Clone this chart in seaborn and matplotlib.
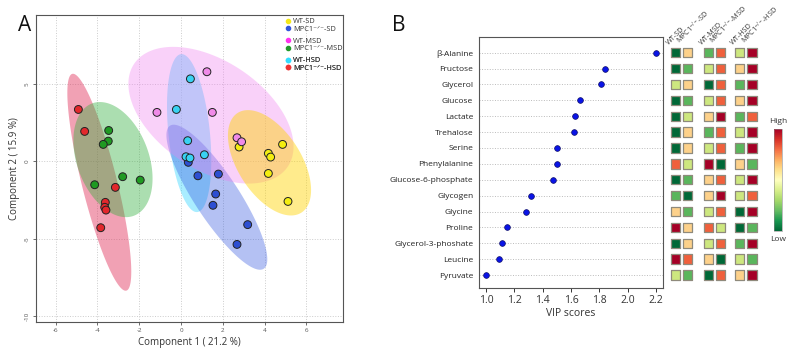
import numpy as np
import pandas as pd
import seaborn as sns
import matplotlib as mpl
import matplotlib.pyplot as plt
from matplotlib.lines import Line2D

# ---- panel A: PLS-DA scores ----
groups = ['WT-SD', 'MPC1-SD', 'WT-MSD', 'MPC1-MSD', 'WT-HSD', 'MPC1-HSD']
labels = ['WT-SD', 'MPC1$^{-/-}$-SD', 'WT-MSD', 'MPC1$^{-/-}$-MSD',
          'WT-HSD', 'MPC1$^{-/-}$-HSD']
# same names, with plain unicode superscripts (keeps the small legend compact)
legend_labels = ['WT-SD', 'MPC1⁻ᐟ⁻-SD', 'WT-MSD', 'MPC1⁻ᐟ⁻-MSD',
                 'WT-HSD', 'MPC1⁻ᐟ⁻-HSD']

wt_sd_x = [2.78, 4.86, 4.18, 4.29, 4.18, 5.12]
wt_sd_y = [0.93, 1.10, 0.52, 0.28, -0.78, -2.59]
mpc_sd_x = [0.35, 0.81, 1.79, 1.66, 1.53, 3.19, 2.68]
mpc_sd_y = [-0.06, -0.93, -0.82, -2.11, -2.84, -4.09, -5.37]
wt_msd_x = [1.24, -1.15, 1.50, 2.68, 2.90]
wt_msd_y = [5.80, 3.17, 3.17, 1.53, 1.27]
mpc_msd_x = [-3.46, -3.48, -3.72, -2.79, -1.95, -4.13]
mpc_msd_y = [2.00, 1.31, 1.10, -0.99, -1.21, -1.51]
wt_hsd_x = [0.45, -0.22, 0.32, 1.12, 0.24, 0.43]
wt_hsd_y = [5.34, 3.36, 1.34, 0.43, 0.30, 0.22]
mpc_hsd_x = [-4.91, -4.61, -3.14, -3.62, -3.65, -3.59, -3.84]
mpc_hsd_y = [3.36, 1.94, -1.68, -2.65, -2.97, -3.15, -4.29]

xs = [wt_sd_x, mpc_sd_x, wt_msd_x, mpc_msd_x, wt_hsd_x, mpc_hsd_x]
ys = [wt_sd_y, mpc_sd_y, wt_msd_y, mpc_msd_y, wt_hsd_y, mpc_hsd_y]

point_colors = ['#f4ee10', '#2d4fd2', '#f08ae8', '#1f9a22', '#38d2f2', '#e2282c']
legend_colors = ['#f4e81a', '#3355dd', '#ff33ee', '#22992a', '#33ddff', '#ee3333']
ell_colors = ['#ffd400', '#3a5ee0', '#f07cf0', '#2fae3a', '#40d8ff', '#e0305a']
ell_alpha = [0.45, 0.38, 0.35, 0.40, 0.45, 0.45]
ell_order = [4, 1, 5, 3, 2, 0]

# ---- panel B: VIP scores ----
metabolites = ['β-Alanine', 'Fructose', 'Glycerol', 'Glucose', 'Lactate', 'Trehalose',
               'Serine', 'Phenylalanine', 'Glucose-6-phosphate', 'Glycogen', 'Glycine',
               'Proline', 'Glycerol-3-phoshate', 'Leucine', 'Pyruvate']
vip = [2.20, 1.84, 1.81, 1.66, 1.63, 1.62, 1.50, 1.50, 1.47, 1.32, 1.28,
       1.15, 1.11, 1.09, 1.00]

# relative level (1 = low ... 6 = high) per group, same order as metabolites
ranks = [
    [1, 4, 2, 5, 3, 6],
    [1, 2, 3, 5, 4, 6],
    [3, 4, 1, 5, 2, 6],
    [1, 2, 3, 5, 4, 6],
    [1, 3, 4, 6, 2, 5],
    [1, 4, 2, 5, 3, 6],
    [1, 4, 3, 5, 2, 6],
    [5, 3, 6, 1, 4, 2],
    [1, 2, 4, 5, 3, 6],
    [2, 1, 4, 6, 3, 5],
    [4, 2, 3, 5, 1, 6],
    [6, 4, 5, 3, 1, 2],
    [1, 4, 3, 5, 2, 6],
    [6, 5, 4, 1, 3, 2],
    [3, 2, 1, 5, 4, 6],
]
level_colors = ['#006837', '#5ab65c', '#cde77f', '#fdd18a', '#f0603c', '#a50026']


def ellipse_xy(x, y, level=0.95, n=240):
    pts = np.column_stack([x, y])
    c = pts.mean(axis=0)
    cov = np.cov(pts, rowvar=False)
    r = np.sqrt(-2 * np.log(1 - level))
    vals, vecs = np.linalg.eigh(cov)
    t = np.linspace(0, 2 * np.pi, n)
    circ = np.stack([np.cos(t), np.sin(t)])
    e = (vecs @ np.diag(np.sqrt(vals)) @ circ) * r
    return c[0] + e[0], c[1] + e[1]


sns.set_theme(style='white')
plt.rcParams['font.family'] = ['Open Sans', 'DejaVu Sans']
plt.rcParams['mathtext.fontset'] = 'custom'
plt.rcParams['mathtext.rm'] = 'Open Sans'
plt.rcParams['mathtext.default'] = 'regular'
plt.rcParams['axes.unicode_minus'] = False

fig = plt.figure(figsize=(7.96, 3.61), dpi=100)

# ---------------- Panel A ----------------
axA = fig.add_axes([0.0449, 0.108, 0.3857, 0.850])
for i in ell_order:
    ex, ey = ellipse_xy(xs[i], ys[i])
    axA.fill(ex, ey, color=ell_colors[i], alpha=ell_alpha[i], lw=0, zorder=1)

df = pd.DataFrame({
    'x': sum(xs, []),
    'y': sum(ys, []),
    'group': sum([[g] * len(x) for g, x in zip(groups, xs)], []),
})
sns.scatterplot(data=df, x='x', y='y', hue='group', hue_order=groups,
                palette=dict(zip(groups, point_colors)), s=32, edgecolor='#222222',
                linewidth=0.7, legend=False, ax=axA, zorder=3)

axA.set_xlim(-6.95, 7.74)
axA.set_ylim(-10.39, 9.46)
axA.set_xticks([-6, -4, -2, 0, 2, 4, 6])
axA.set_yticks([-10, -5, 0, 5])
axA.grid(True, ls=':', color='#cccccc', lw=0.7)
axA.set_axisbelow(True)
axA.tick_params(axis='both', labelsize=4.5, colors='#555555', length=2.5,
                width=0.6, direction='out', bottom=True, left=True, pad=2)
for lab in axA.get_yticklabels():
    lab.set_rotation(90)
    lab.set_va('center')
axA.set_xlabel('Component 1 ( 21.2 %)', fontsize=7, color='#333333', labelpad=3)
axA.set_ylabel('Component 2 ( 15.9 %)', fontsize=7, color='#333333', labelpad=3)
for sp in axA.spines.values():
    sp.set_color('#555555')
    sp.set_linewidth(0.8)

# legend, in three pairs
leg_tops = [0.990, 0.926, 0.863]
for k in range(3):
    hs = [Line2D([], [], marker='o', ls='', color=legend_colors[j], markersize=3)
          for j in (2 * k, 2 * k + 1)]
    lg = axA.legend(hs, legend_labels[2 * k:2 * k + 2], loc='upper left',
                    bbox_to_anchor=(0.812, leg_tops[k]), frameon=False, fontsize=5.3,
                    handlelength=0.8, handletextpad=0.3, labelspacing=0.0,
                    borderpad=0, borderaxespad=0)
    for t in lg.get_texts():
        t.set_color('#333333')
    axA.add_artist(lg)

fig.text(0.022, 0.93, 'A', fontsize=15, color='#111111', ha='left', va='center')

# ---------------- Panel B: VIP dot chart ----------------
ypos = np.arange(len(metabolites), 0, -1)
axB = fig.add_axes([0.6014, 0.203, 0.2319, 0.6936])
for yy in ypos:
    axB.axhline(yy, ls=':', color='#bbbbbb', lw=0.7, zorder=1)
sns.scatterplot(x=vip, y=ypos, color='#0a14e6', edgecolor='#10106a', s=17,
                linewidth=0.5, ax=axB, zorder=3)
axB.set_xlim(0.948, 2.252)
axB.set_ylim(0.2, 15.97)
axB.set_xticks([1.0, 1.2, 1.4, 1.6, 1.8, 2.0, 2.2])
axB.set_yticks(ypos, metabolites)
axB.tick_params(axis='y', length=0, labelsize=6, colors='#222222', pad=4)
axB.tick_params(axis='x', length=3, width=0.7, labelsize=7.5, colors='#333333',
                direction='out', bottom=True, pad=2)
axB.set_xlabel('VIP scores', fontsize=7.5, color='#333333', labelpad=2)
for sp in axB.spines.values():
    sp.set_color('#555555')
    sp.set_linewidth(0.8)

fig.text(0.493, 0.93, 'B', fontsize=15, color='#111111', ha='left', va='center')

# ---------------- Panel B: group level heatmap ----------------
col_pos = [0, 1, 2.72, 3.75, 5.33, 6.36]
axH = fig.add_axes([0.8392, 0.203, 0.1181, 0.6936])
heat = pd.DataFrame([(col_pos[j], ypos[i], ranks[i][j])
                     for i in range(len(metabolites)) for j in range(len(groups))],
                    columns=['x', 'y', 'level'])
sns.scatterplot(data=heat, x='x', y='y', hue='level',
                palette=dict(zip(range(1, 7), level_colors)), marker='s', s=46,
                edgecolor='#8f8a7c', linewidth=0.9, legend=False, ax=axH)
axH.set_xlim(-0.64, 7.19)
axH.set_ylim(0.2, 15.97)
axH.axis('off')
for j, lab in enumerate(labels):
    axH.text(col_pos[j] - 0.45, ypos[0] + 0.42, lab, rotation=45, rotation_mode='anchor',
             ha='left', va='bottom', fontsize=5.2, color='#333333', clip_on=False)

# colour key
cax = fig.add_axes([0.9727, 0.36, 0.0100, 0.2826])
cb = mpl.colorbar.ColorbarBase(cax, cmap=plt.get_cmap('RdYlGn_r'), orientation='vertical')
cb.set_ticks([])
cb.outline.set_linewidth(0.4)
cb.outline.set_edgecolor('#888888')
fig.text(0.9777, 0.655, 'High', fontsize=6, color='#333333', ha='center', va='bottom')
fig.text(0.9777, 0.345, 'Low', fontsize=6, color='#333333', ha='center', va='top')

fig.savefig('out.png', dpi=100)
